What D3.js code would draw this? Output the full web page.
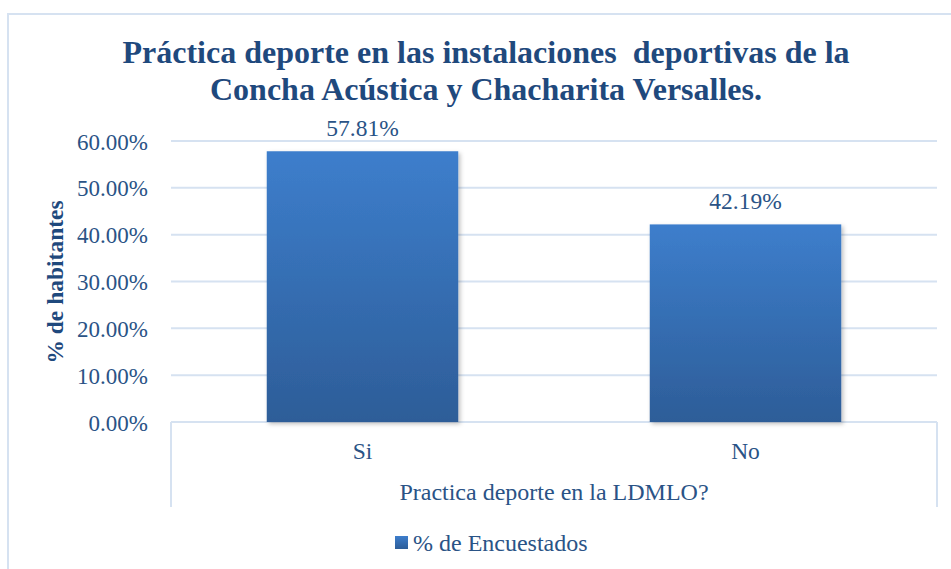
<!DOCTYPE html>
<html>
<head>
<meta charset="utf-8">
<script src="https://cdn.jsdelivr.net/npm/d3@7"></script>
<style>
  html, body { margin: 0; padding: 0; background: #ffffff; }
  svg { display: block; }
  text { font-family: "Liberation Serif", "Times New Roman", serif; }
</style>
</head>
<body>
<svg id="chart" width="951" height="569"></svg>
<script>
const categories = ["Si", "No"];
const seriesName = "% de Encuestados";
const values = [57.81, 42.19];
const valueLabels = ["57.81%", "42.19%"];
const yTicks = [0, 10, 20, 30, 40, 50, 60];
const yTickLabels = ["0.00%", "10.00%", "20.00%", "30.00%", "40.00%", "50.00%", "60.00%"];
const titleLines = ["Práctica deporte en las instalaciones  deportivas de la", "Concha Acústica y Chacharita Versalles."];
const yAxisTitle = "% de habitantes";
const xAxisTitle = "Practica deporte en la LDMLO?";

const svg = d3.select("#chart");
const W = 951, H = 569;
const textColor = "#2a5386";
const titleColor = "#1f497d";
const gridColor = "#d6e2f1";
const serif = '"Liberation Serif", "Times New Roman", serif';

const plot = { left: 171, right: 937, top: 141, bottom: 422 };

const defs = svg.append("defs");
const grad = defs.append("linearGradient").attr("id", "barGrad")
  .attr("x1", 0).attr("y1", 0).attr("x2", 0).attr("y2", 1);
grad.append("stop").attr("offset", "0%").attr("stop-color", "#3d7ecc");
grad.append("stop").attr("offset", "100%").attr("stop-color", "#2d5d98");

const shadow = defs.append("filter").attr("id", "shadow")
  .attr("x", "-5%").attr("y", "-5%").attr("width", "115%").attr("height", "115%");
shadow.append("feDropShadow").attr("dx", 2).attr("dy", 2).attr("stdDeviation", 2)
  .attr("flood-color", "#000").attr("flood-opacity", 0.25);

// Chart border
svg.append("rect").attr("x", 8).attr("y", 14).attr("width", W + 10).attr("height", H + 10)
  .attr("fill", "none").attr("stroke", gridColor).attr("stroke-width", 2);

const x = d3.scaleBand().domain(categories).range([plot.left, plot.right])
  .paddingInner(0.5).paddingOuter(0.25);
const y = d3.scaleLinear().domain([0, 60]).range([plot.bottom, plot.top]);

// Gridlines
svg.append("g").selectAll("line").data(yTicks.filter(d => d > 0)).join("line")
  .attr("x1", plot.left).attr("x2", plot.right)
  .attr("y1", d => y(d)).attr("y2", d => y(d))
  .attr("stroke", gridColor).attr("stroke-width", 2);

// Y axis labels
const yAxis = d3.axisLeft(y).tickValues(yTicks)
  .tickFormat((d, i) => yTickLabels[i]).tickSize(0).tickPadding(0);
const gy = svg.append("g").attr("transform", `translate(148,0)`).call(yAxis);
gy.attr("font-family", null);
gy.select(".domain").remove();
gy.selectAll("text").attr("fill", textColor).style("font-size", "23px")
  .style("font-family", serif).attr("dy", "0.35em");

// Category axis box
const axisBox = svg.append("g").attr("fill", "none").attr("stroke", gridColor).attr("stroke-width", 2);
axisBox.append("line").attr("x1", plot.left).attr("x2", plot.right).attr("y1", y(0)).attr("y2", y(0));
axisBox.append("line").attr("x1", plot.left).attr("x2", plot.left).attr("y1", y(0)).attr("y2", 507);
axisBox.append("line").attr("x1", plot.right).attr("x2", plot.right).attr("y1", y(0)).attr("y2", 507);

// Bars
svg.append("g").selectAll("rect").data(values).join("rect")
  .attr("x", (d, i) => x(categories[i]))
  .attr("width", x.bandwidth())
  .attr("y", d => y(d))
  .attr("height", d => y(0) - y(d))
  .attr("fill", "url(#barGrad)")
  .attr("filter", "url(#shadow)");

// Data labels
svg.append("g").selectAll("text").data(values).join("text")
  .attr("x", (d, i) => x(categories[i]) + x.bandwidth() / 2)
  .attr("y", d => y(d) - 15)
  .attr("text-anchor", "middle")
  .attr("fill", textColor).style("font-size", "23.5px")
  .text((d, i) => valueLabels[i]);

// Category labels
const xAxis = d3.axisBottom(x).tickSize(0).tickPadding(0);
const gx = svg.append("g").attr("transform", `translate(0,440)`).call(xAxis);
gx.attr("font-family", null);
gx.select(".domain").remove();
gx.selectAll("text").attr("fill", textColor).style("font-size", "23.5px")
  .style("font-family", serif).attr("dy", "0.8em");

// X axis title
svg.append("text").attr("x", (plot.left + plot.right) / 2).attr("y", 500)
  .attr("text-anchor", "middle").attr("fill", textColor).style("font-size", "24px")
  .text(xAxisTitle);

// Y axis title
svg.append("text").attr("transform", `translate(63,282) rotate(-90)`)
  .attr("text-anchor", "middle").attr("fill", titleColor)
  .style("font-size", "23.5px").style("font-weight", "bold")
  .text(yAxisTitle);

// Title
svg.append("g").selectAll("text").data(titleLines).join("text")
  .attr("x", 486).attr("y", (d, i) => 63 + i * 37)
  .attr("text-anchor", "middle").attr("fill", titleColor)
  .style("font-size", "32px").style("font-weight", "bold")
  .style("white-space", "pre").attr("xml:space", "preserve")
  .text(d => d);

// Legend
const lg = svg.append("g");
lg.append("rect").attr("x", 395).attr("y", 536).attr("width", 13).attr("height", 13)
  .attr("fill", "url(#barGrad)");
lg.append("text").attr("x", 413).attr("y", 551).attr("fill", textColor)
  .style("font-size", "24px").text(seriesName);
</script>
</body>
</html>
